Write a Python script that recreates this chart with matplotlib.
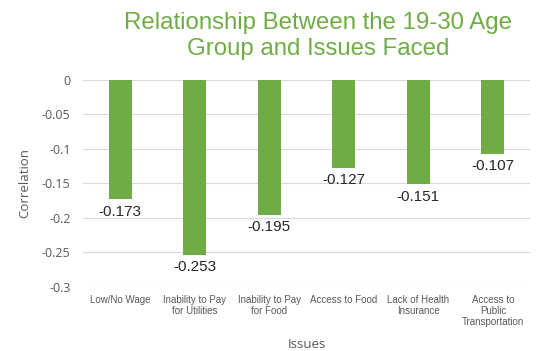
import matplotlib
matplotlib.use("Agg")
import matplotlib.pyplot as plt

issues = ["Low/No Wage", "Inability to Pay\nfor Utilities", "Inability to Pay\nfor Food",
          "Access to Food", "Lack of Health\nInsurance", "Access to\nPublic\nTransportation"]
correlation = [-0.173, -0.253, -0.195, -0.127, -0.151, -0.107]
yticks = [0, -0.05, -0.1, -0.15, -0.2, -0.25, -0.3]
ytick_labels = ["0", "-0.05", "-0.1", "-0.15", "-0.2", "-0.25", "-0.3"]

green = "#6fac46"
grid = "#d9d9d9"

fig = plt.figure(figsize=(5.44, 3.51), dpi=100)
ax = fig.add_axes([0.1526, 0.1823, 0.822, 0.590])

x = list(range(len(issues)))
ax.bar(x, correlation, width=0.31, color=green, zorder=3)

for xi, v in zip(x, correlation):
    ax.annotate(f"{v:.3f}", (xi, v), xytext=(0, -4), textcoords="offset points",
                ha="center", va="top", fontsize=11, color="#262626",
                family="Liberation Sans", zorder=4)

ax.set_xlim(-0.5, len(issues) - 0.5)
ax.set_ylim(-0.3, 0)
ax.set_yticks(yticks)
ax.set_yticklabels(ytick_labels, family="Open Sans", fontsize=9, color="#595959")
ax.yaxis.grid(True, color=grid, linewidth=0.8, zorder=0)
ax.set_xticks(x)
ax.set_xticklabels(issues, family="Liberation Sans", fontsize=7, color="#595959",
                   linespacing=1.1)
ax.tick_params(axis="both", length=0)
ax.tick_params(axis="x", pad=6)
ax.tick_params(axis="y", pad=9)
for s in ax.spines.values():
    s.set_visible(False)

ax.set_ylabel("Correlation", family="Open Sans", fontsize=9.5, color="#595959", labelpad=8)
ax.set_xlabel("Issues", family="Open Sans", fontsize=9.5, color="#595959", labelpad=8)

fig.text(0.585, 0.897, "Relationship Between the 19-30 Age\nGroup and Issues Faced",
         ha="center", va="center", fontsize=17.3, color=green,
         family="Liberation Sans", linespacing=1.2)

fig.savefig("out.png", dpi=100, facecolor="white")
